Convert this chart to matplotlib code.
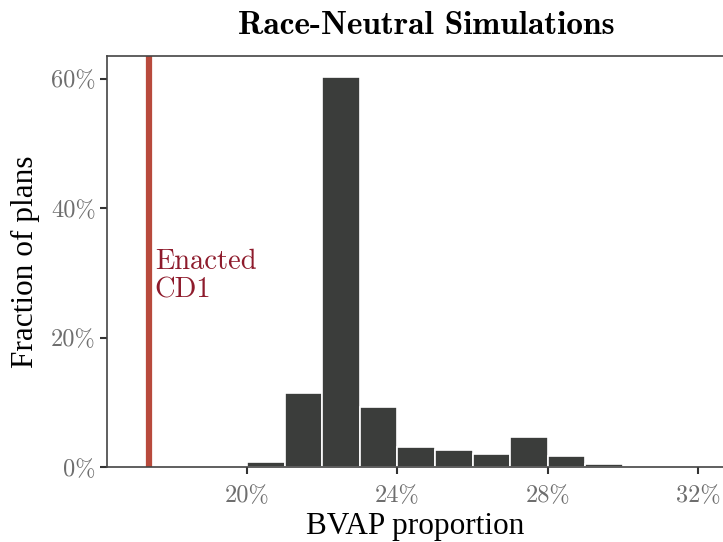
import numpy as np
import matplotlib.pyplot as plt

# histogram of BVAP share in race-neutral simulated plans (percent)
bin_edges = [20, 21, 22, 23, 24, 25, 26, 27, 28, 29, 30]
fractions = [0.86, 11.5, 60.2, 9.3, 3.1, 2.65, 2.05, 4.6, 1.75, 0.5]
enacted_cd1 = 17.4
x_ticks = [20, 24, 28, 32]
y_ticks = [0, 20, 40, 60]

plt.rcParams['axes.formatter.use_mathtext'] = True

fig = plt.figure(figsize=(7.23, 5.42), dpi=100)
ax = fig.add_axes([0.148, 0.138, 0.852, 0.759])

lefts = np.array(bin_edges[:-1])
widths = np.diff(bin_edges)
ax.bar(lefts, fractions, width=widths, align='edge',
       color='#3b3d3b', edgecolor='white', linewidth=1.2)

ax.axvline(enacted_cd1, color='#b84a3c', linewidth=4.5)
ax.text(enacted_cd1 + 0.15, 29.5, 'Enacted\nCD1', color='#8e1b2c',
        fontsize=20.5, family='cmr10', va='center', ha='left', linespacing=1.1)

ax.set_xlim(16.28, 32.66)
ax.set_ylim(0, 63.5)
ax.set_xticks(x_ticks)
ax.set_xticklabels([f'{t}%' for t in x_ticks])
ax.set_yticks(y_ticks)
ax.set_yticklabels([f'{t}%' for t in y_ticks])
for lab in ax.get_xticklabels() + ax.get_yticklabels():
    lab.set_family('cmr10')
    lab.set_fontsize(17.5)
    lab.set_color('#6e6e6e')
ax.tick_params(length=5, width=1.5, color='#333333')
ax.tick_params(axis='x', pad=8)
ax.tick_params(axis='y', pad=3)

ax.spines['right'].set_visible(False)
for s in ['left', 'bottom', 'top']:
    ax.spines[s].set_color('#444444')
    ax.spines[s].set_linewidth(1.2)

ax.set_xlabel('BVAP proportion', family='Liberation Serif', fontsize=22.5, labelpad=3)
ax.set_ylabel('Fraction of plans', family='Liberation Serif', fontsize=22.5, labelpad=8)
fig.suptitle('Race-Neutral Simulations', family='cmb10', fontsize=24,
             x=0.59, y=0.98)

fig.savefig('out.png', dpi=100)
